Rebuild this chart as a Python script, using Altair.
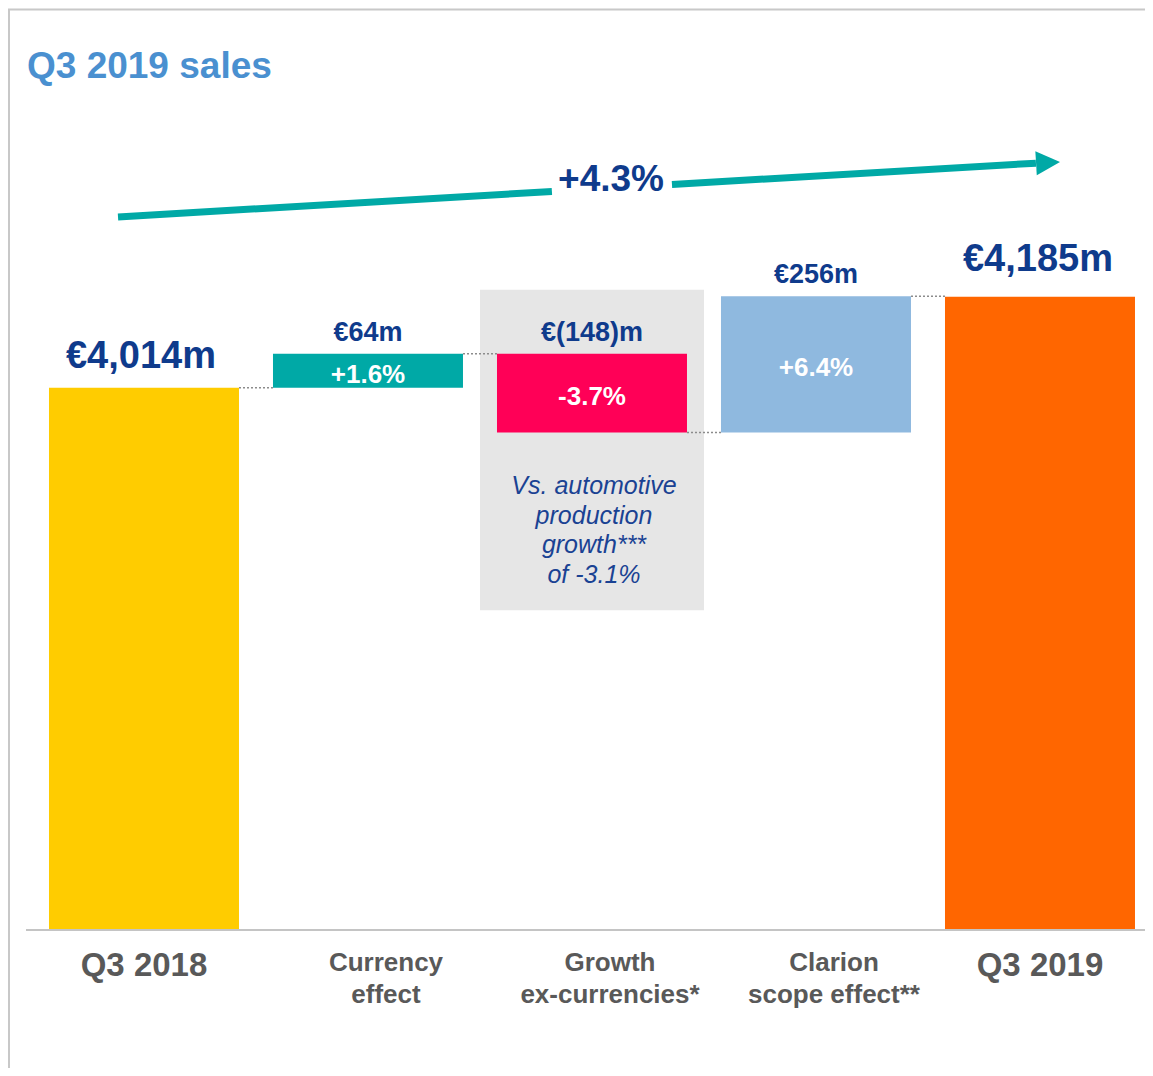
import altair as alt
import pandas as pd

# ---------------- data ----------------
CATEGORIES = ["Q3 2018", "Currency\neffect", "Growth\nex-currencies*", "Clarion\nscope effect**", "Q3 2019"]
AMOUNTS = [4014, 64, -148, 256, 4185]
KINDS = ["total", "delta", "delta", "delta", "total"]
VALUE_LABELS = ["€4,014m", "€64m", "€(148)m", "€256m", "€4,185m"]
PCT_LABELS = ["", "+1.6%", "-3.7%", "+6.4%", ""]
BAR_COLORS = ["#FFCC00", "#00A9A6", "#FF0057", "#8FB9DF", "#FF6600"]
TITLE = "Q3 2019 sales"
GROWTH_LABEL = "+4.3%"
NOTE_TEXT = "Vs. automotive\nproduction\ngrowth***\nof -3.1%"
NOTE_CATEGORY = 2

# value shown at the baseline of the (non-zero) value axis
AXIS_FLOOR = 2995
# annotation geometry in data space
BOX_TOP, BOX_BOTTOM = 4198, 3596
ARROW_I = [-0.116, 3.982]
ARROW_V = [4335, 4436]
ARROW_GAP_I = [1.821, 2.357]
ARROW_HEAD = (4.036, 4437)
GROWTH_LABEL_POS = (2.085, 4404)

# ---------------- styles ----------------
FONT = "Liberation Sans"
DARK_BLUE = "#0F3B8C"
GREY_TXT = "#595959"
TEAL = "#00A9A6"
W, H = 1137, 1060
X_DOMAIN = [-0.6071, 4.4688]
Y_DOMAIN = [2735.7, 4727.5]
HALF = 95 / 224

xs = alt.Scale(domain=X_DOMAIN, nice=False, zero=False)
ys = alt.Scale(domain=Y_DOMAIN, nice=False, zero=False)

# waterfall table
rows = []
level = None
for i, (c, a, k, vl, pl, col) in enumerate(zip(CATEGORIES, AMOUNTS, KINDS, VALUE_LABELS, PCT_LABELS, BAR_COLORS)):
    if k == "total":
        start, end = AXIS_FLOOR, a
    else:
        start, end = level, level + a
    level = end
    rows.append(dict(i=i, cat=c, kind=k, start=start, end=end, top=max(start, end),
                     mid=(start + end) / 2, vlabel=vl, plabel=pl, color=col))
df = pd.DataFrame(rows)
df["x0"] = df["i"] - HALF
df["x1"] = df["i"] + HALF

conn = pd.DataFrame([dict(x0=r["i"] + HALF, x1=r["i"] + 1 - HALF, y=r["end"]) for r in rows[:-1]])

# arrow segments with gap for label
def interp(ii):
    return ARROW_V[0] + (ARROW_V[1] - ARROW_V[0]) * (ii - ARROW_I[0]) / (ARROW_I[1] - ARROW_I[0])

arrow = pd.DataFrame([
    dict(seg=0, o=0, i=ARROW_I[0], v=ARROW_V[0]),
    dict(seg=0, o=1, i=ARROW_GAP_I[0], v=interp(ARROW_GAP_I[0])),
    dict(seg=1, o=0, i=ARROW_GAP_I[1], v=interp(ARROW_GAP_I[1])),
    dict(seg=1, o=1, i=ARROW_I[1], v=ARROW_V[1]),
])
head = pd.DataFrame([dict(i=ARROW_HEAD[0], v=ARROW_HEAD[1])])
glabel = pd.DataFrame([dict(i=GROWTH_LABEL_POS[0], v=GROWTH_LABEL_POS[1], t=GROWTH_LABEL)])
box = pd.DataFrame([dict(x0=NOTE_CATEGORY - 0.5, x1=NOTE_CATEGORY + 0.5, y0=BOX_BOTTOM, y1=BOX_TOP)])
note = pd.DataFrame([dict(i=NOTE_CATEGORY, y=df.loc[NOTE_CATEGORY, "end"], t=NOTE_TEXT)])
one = pd.DataFrame([dict(a=1)])

base = alt.Chart(df)

box_l = alt.Chart(box).mark_rect(color="#E6E6E6").encode(
    x=alt.X("x0:Q", scale=xs, axis=None), x2="x1:Q",
    y=alt.Y("y0:Q", scale=ys, axis=None), y2="y1:Q")

conn_l = alt.Chart(conn).mark_rule(color="#8C8C8C", strokeWidth=1.5, strokeDash=[2, 2]).encode(
    x=alt.X("x0:Q", scale=xs, axis=None), x2="x1:Q",
    y=alt.Y("y:Q", scale=ys, axis=None))

bars = base.mark_rect().encode(
    x=alt.X("x0:Q", scale=xs, axis=None), x2="x1:Q",
    y=alt.Y("start:Q", scale=ys, axis=None), y2="end:Q",
    color=alt.Color("color:N", scale=None))

baseline = alt.Chart(one).mark_rule(color="#C4C4C4", strokeWidth=2).encode(
    x=alt.value(18), x2=alt.value(W), y=alt.Y(datum=AXIS_FLOOR, scale=ys, axis=None))

frame_top = alt.Chart(one).mark_rule(color="#C8C8C8", strokeWidth=2).encode(
    x=alt.value(0), x2=alt.value(W), y=alt.value(1.5))
frame_left = alt.Chart(one).mark_rule(color="#C8C8C8", strokeWidth=2).encode(
    x=alt.value(1), y=alt.value(1), y2=alt.value(H))

tot_first = base.transform_filter("datum.i == 0").mark_text(
    font=FONT, fontSize=38, fontWeight="bold", color=DARK_BLUE, baseline="middle", dy=-31, dx=-3).encode(
    x=alt.X("i:Q", scale=xs, axis=None), y=alt.Y("top:Q", scale=ys, axis=None), text="vlabel:N")

tot_last = base.transform_filter("datum.i == 4").mark_text(
    font=FONT, fontSize=38, fontWeight="bold", color=DARK_BLUE, baseline="middle", dy=-37, dx=-2).encode(
    x=alt.X("i:Q", scale=xs, axis=None), y=alt.Y("top:Q", scale=ys, axis=None), text="vlabel:N")

del_vals = base.transform_filter("datum.kind == 'delta'").mark_text(
    font=FONT, fontSize=27, fontWeight="bold", color=DARK_BLUE, baseline="middle", dy=-21).encode(
    x=alt.X("i:Q", scale=xs, axis=None), y=alt.Y("top:Q", scale=ys, axis=None), text="vlabel:N")

pct = base.transform_filter("datum.plabel != ''").mark_text(
    font=FONT, fontSize=26, fontWeight="bold", color="white", baseline="middle", dy=4).encode(
    x=alt.X("i:Q", scale=xs, axis=None), y=alt.Y("mid:Q", scale=ys, axis=None), text="plabel:N")

cat_tot = base.transform_filter("datum.kind == 'total'").mark_text(
    font=FONT, fontSize=33, fontWeight="bold", color=GREY_TXT, baseline="middle", dy=36).encode(
    x=alt.X("i:Q", scale=xs, axis=None), y=alt.Y(datum=AXIS_FLOOR, scale=ys, axis=None), text="cat:N")

cat_del = base.transform_filter("datum.kind == 'delta'").mark_text(
    font=FONT, fontSize=26, fontWeight="bold", color=GREY_TXT, baseline="middle", dy=33, dx=18,
    lineBreak="\n", lineHeight=32).encode(
    x=alt.X("i:Q", scale=xs, axis=None), y=alt.Y(datum=AXIS_FLOOR, scale=ys, axis=None), text="cat:N")

note_l = alt.Chart(note).mark_text(
    font=FONT, fontSize=25, fontStyle="italic", color="#1A4293", baseline="middle", dy=54, dx=2,
    lineBreak="\n", lineHeight=29.5).encode(
    x=alt.X("i:Q", scale=xs, axis=None), y=alt.Y("y:Q", scale=ys, axis=None), text="t:N")

arrow_l = alt.Chart(arrow).mark_line(color=TEAL, strokeWidth=7, strokeCap="butt").encode(
    x=alt.X("i:Q", scale=xs, axis=None), y=alt.Y("v:Q", scale=ys, axis=None),
    detail="seg:N", order="o:Q")

head_l = alt.Chart(head).mark_point(shape="M-1,-1L1,0L-1,1Z", size=576, angle=356.57,
                                    filled=True, color=TEAL, opacity=1, strokeWidth=0).encode(
    x=alt.X("i:Q", scale=xs, axis=None), y=alt.Y("v:Q", scale=ys, axis=None))

glabel_l = alt.Chart(glabel).mark_text(
    font=FONT, fontSize=37, fontWeight="bold", color=DARK_BLUE, baseline="middle").encode(
    x=alt.X("i:Q", scale=xs, axis=None), y=alt.Y("v:Q", scale=ys, axis=None), text="t:N")

title_l = alt.Chart(one).mark_text(
    font=FONT, fontSize=37, fontWeight="bold", color="#4A90D0", align="left", baseline="middle").encode(
    x=alt.value(19), y=alt.value(59), text=alt.value(TITLE))

chart = alt.layer(
    frame_top, frame_left, box_l, conn_l, bars, baseline, tot_first, tot_last, del_vals, pct,
    cat_tot, cat_del, note_l, arrow_l, head_l, glabel_l, title_l
).properties(
    width=W, height=H, padding=0, autosize="none", background="white"
).configure_view(stroke=None)

chart.save("out.html", embed_options={"renderer": "svg", "actions": False})
